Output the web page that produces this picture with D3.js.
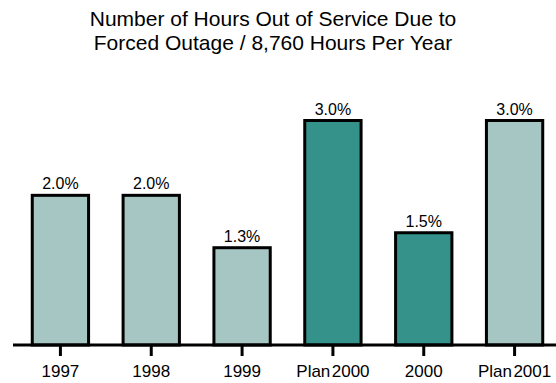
<!DOCTYPE html>
<html>
<head>
<meta charset="utf-8">
<script src="https://cdn.jsdelivr.net/npm/d3@7"></script>
<style>
  html, body { margin: 0; padding: 0; background: #fff; }
  svg { display: block; font-family: "Liberation Sans", Arial, sans-serif; }
</style>
</head>
<body>
<svg id="chart" width="556" height="383"></svg>
<script>
// Forced outage rate per year (percent of 8,760 hours)
const categories = ["1997", "1998", "1999", "Plan 2000", "2000", "Plan 2001"];
const values = [2.0, 2.0, 1.3, 3.0, 1.5, 3.0];
const kinds = ["light", "light", "light", "dark", "dark", "light"];
const valueLabels = ["2.0%", "2.0%", "1.3%", "3.0%", "1.5%", "3.0%"];
const titleLines = ["Number of Hours Out of Service Due to", "Forced Outage / 8,760 Hours Per Year"];

const fills = { light: "#a6c6c4", dark: "#35928a" };

const svg = d3.select("#chart");
const W = 556;
const baseY = 345;

const x = d3.scaleBand()
  .domain(categories)
  .range([15, 560])
  .paddingInner(0.38)
  .paddingOuter(0.19);

const y = d3.scaleLinear().domain([0, 3]).range([baseY, 120.5]);

// Title
svg.append("g").selectAll("text")
  .data(titleLines)
  .join("text")
  .attr("x", 273)
  .attr("y", (d, i) => 26 + i * 24)
  .attr("text-anchor", "middle")
  .attr("font-size", 21)
  .attr("fill", "#000")
  .text(d => d);

// Bars
const data = categories.map((c, i) => ({ c, v: values[i], k: kinds[i], lab: valueLabels[i] }));

svg.append("g").selectAll("rect")
  .data(data)
  .join("rect")
  .attr("x", d => x(d.c))
  .attr("y", d => y(d.v))
  .attr("width", x.bandwidth())
  .attr("height", d => baseY - y(d.v))
  .attr("fill", d => fills[d.k])
  .attr("stroke", "#000")
  .attr("stroke-width", 3);

// Value labels
svg.append("g").selectAll("text")
  .data(data)
  .join("text")
  .attr("x", d => x(d.c) + x.bandwidth() / 2)
  .attr("y", d => y(d.v) - 6)
  .attr("text-anchor", "middle")
  .attr("font-size", 16)
  .attr("fill", "#000")
  .text(d => d.lab);

// Category axis
const axis = d3.axisBottom(x)
  .tickSize(11)
  .tickPadding(9)
  .tickFormat(d => d.replace(" ", "\u200A"));
const gx = svg.append("g")
  .attr("transform", `translate(0,${baseY})`)
  .call(axis);
gx.select(".domain").remove();
gx.append("line")
  .attr("x1", 13).attr("x2", W)
  .attr("y1", 0).attr("y2", 0)
  .attr("stroke", "#000").attr("stroke-width", 3);
gx.selectAll(".tick line").attr("stroke", "#000").attr("stroke-width", 3);
gx.selectAll(".tick text")
  .attr("font-size", 17)
  .attr("fill", "#000")
  .attr("font-family", "Liberation Sans, Arial, sans-serif");
</script>
</body>
</html>
